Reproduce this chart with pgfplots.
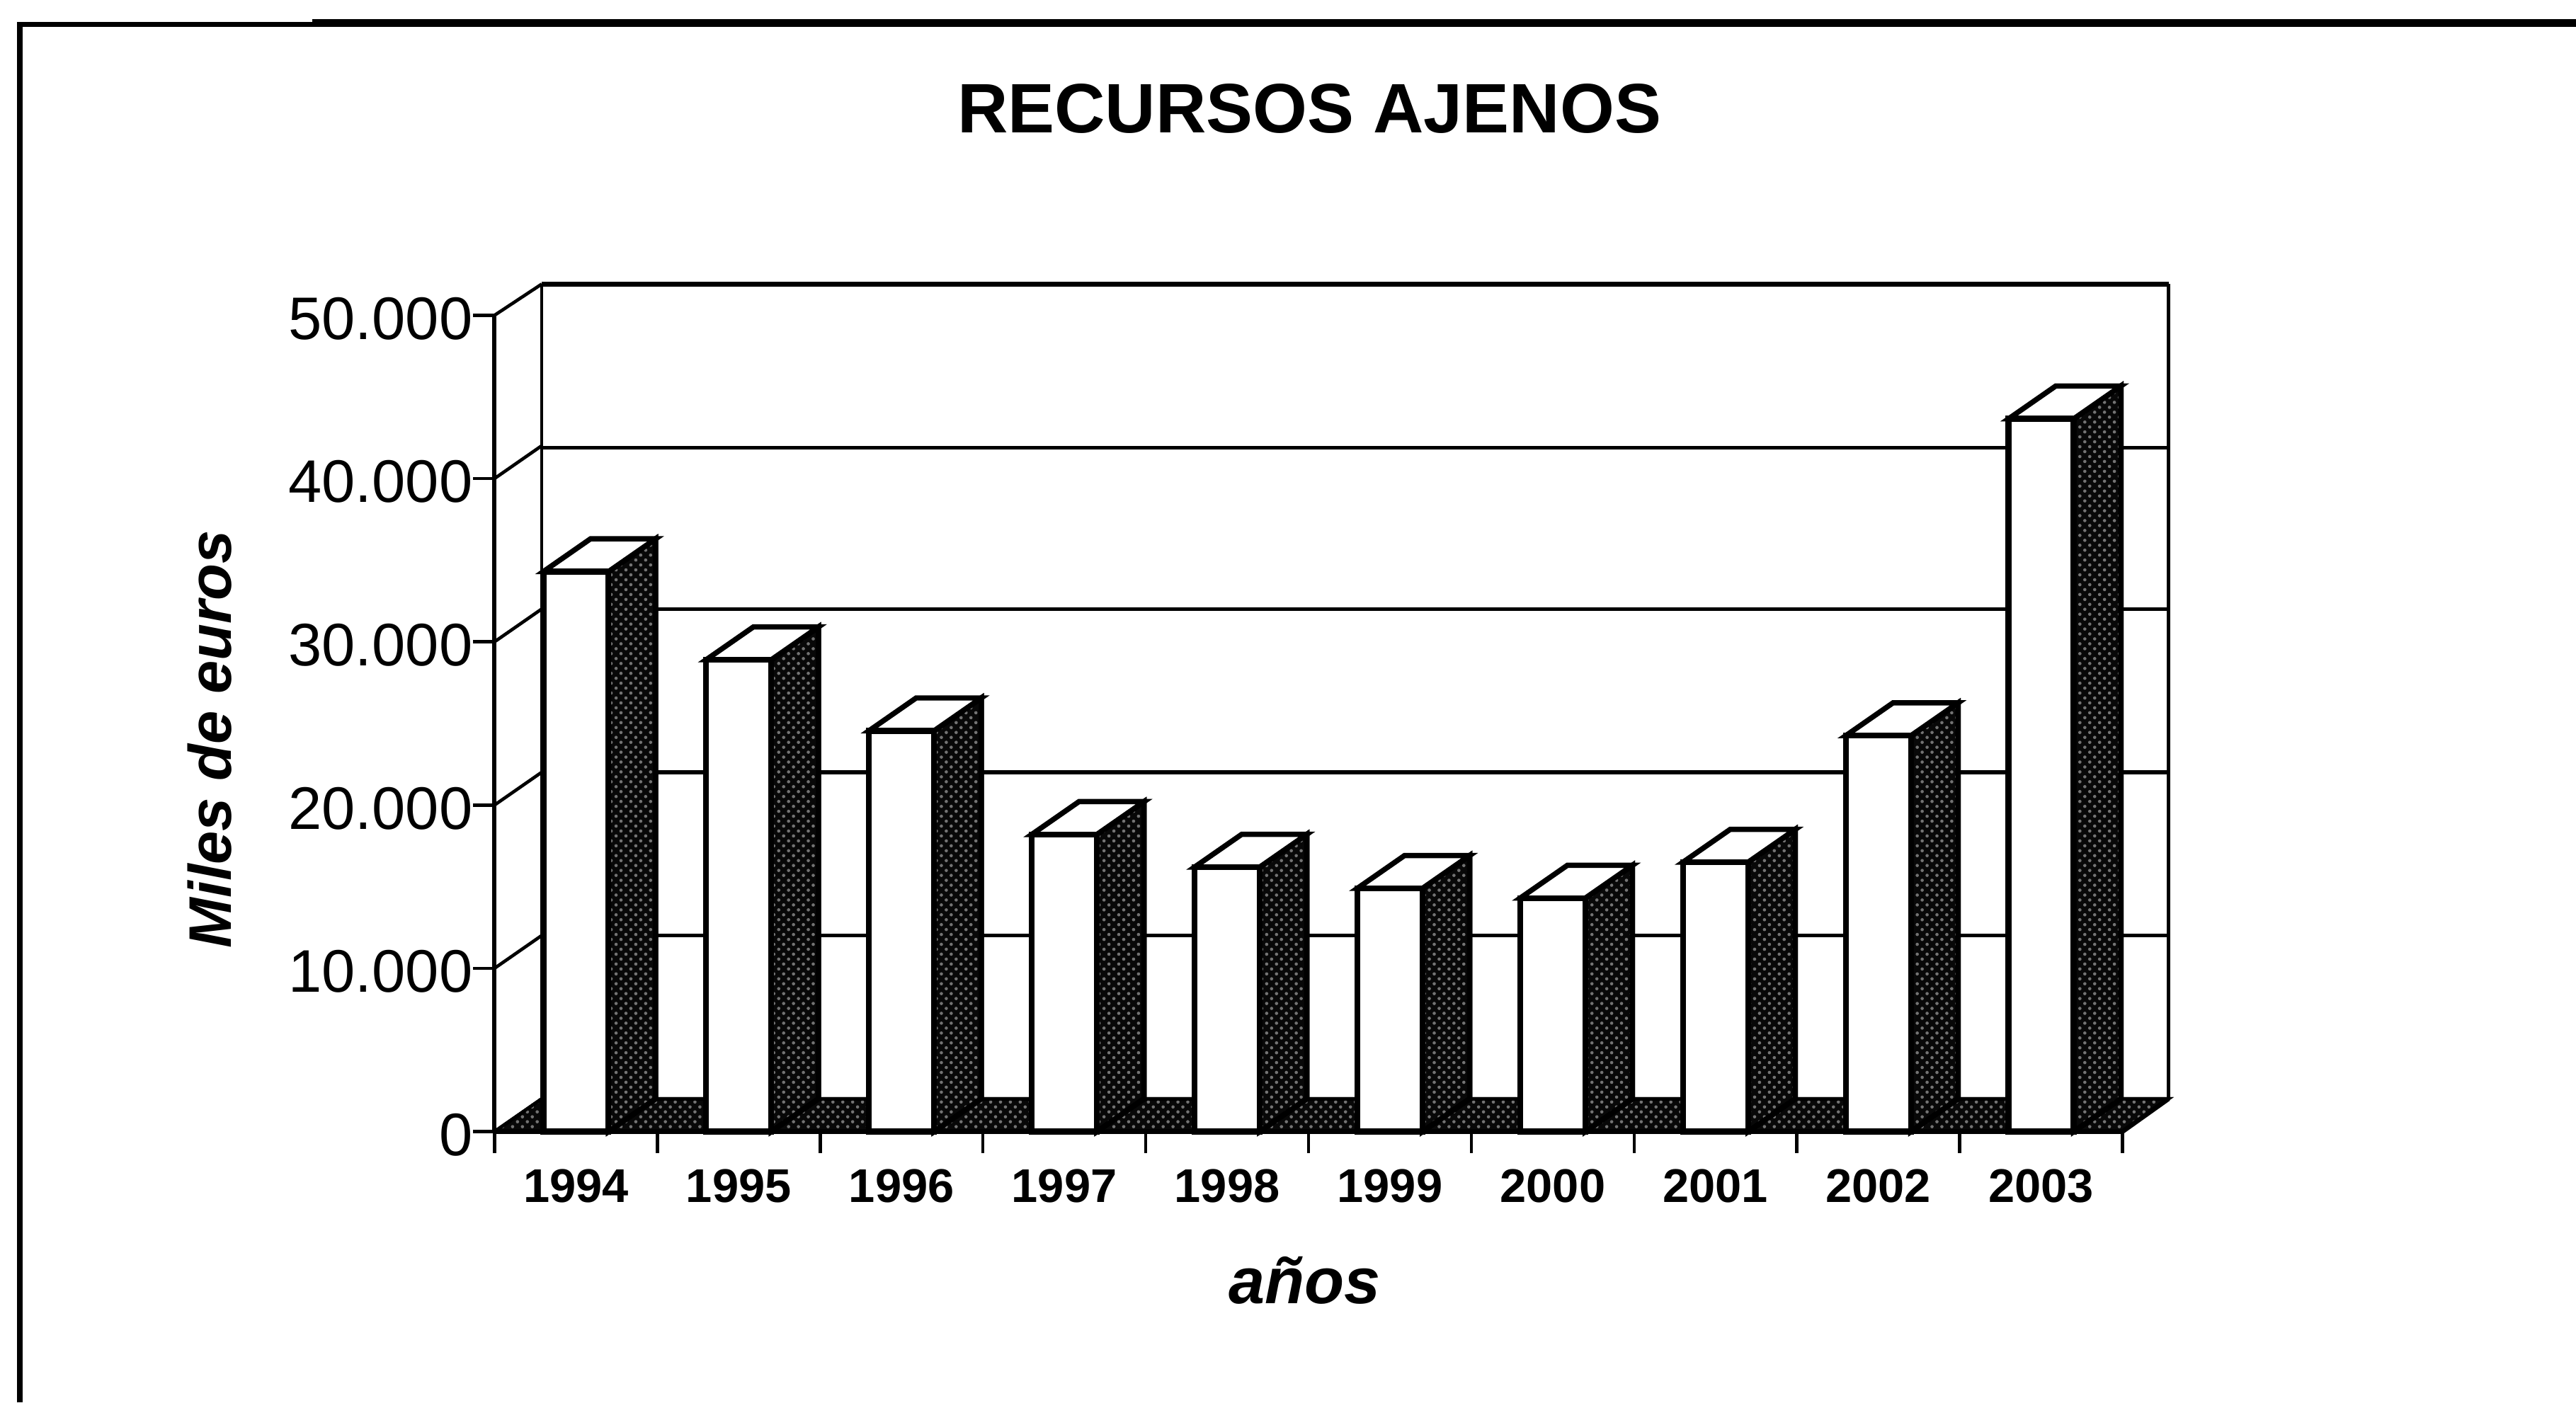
\documentclass[border=0pt]{standalone}
\usepackage{fontspec}
\setmainfont{Liberation Sans}
\usepackage{pgfplots}
\pgfplotsset{compat=1.18}
\usetikzlibrary{patterns}
\definecolor{sidegray}{gray}{0.03}
\definecolor{speck}{gray}{0.45}
\tikzset{sideface/.style={fill=sidegray,draw=black,line width=1.6pt,
           postaction={pattern=crosshatch dots,pattern color=speck}},
         topface/.style={fill=white,draw=black,line width=1.6pt,line join=miter},
         gridl/.style={black,line width=1pt}}
\begin{document}
\begin{tikzpicture}
\path[use as bounding box] (0,0) rectangle (784pt,427pt);
% scanned frame
\draw[line width=1.6pt] (6pt,0) -- (6pt,419.5pt) -- (95pt,419.5pt);
\draw[line width=2.2pt] (95pt,420pt) -- (784pt,420pt);
\begin{axis}[
  at={(150.5pt,82.5pt)}, anchor=south west, scale only axis,
  width=509.5pt, height=258pt,
  xmin=-0.5, xmax=9.783, ymin=0, ymax=51911,
  clip=false, axis line style={draw=none},
  xtick pos=bottom, ytick pos=left,
  ytick={0,10000,20000,30000,40000,50000},
  xtick={-0.5,0.5,1.5,2.5,3.5,4.5,5.5,6.5,7.5,8.5,9.5}, xticklabels={},
  extra x ticks={0,1,2,3,4,5,6,7,8,9},
  extra x tick labels={1994,1995,1996,1997,1998,1999,2000,2001,2002,2003},
  extra x tick style={major tick length=0pt,
    tick label style={font=\bfseries\fontsize{14.4}{16}\selectfont,yshift=-8pt}},
  major tick length=6.5pt, tick align=outside,
  tick style={black,line width=1pt},
  scaled y ticks=false,
  yticklabel style={font=\fontsize{18.3}{20}\selectfont,inner sep=0pt,xshift=0pt,yshift=-1pt},
  /pgf/number format/.cd, 1000 sep={.}, assume math mode=true,
  /pgfplots/.cd,
  title={RECURSOS AJENOS},
  title style={font=\bfseries\fontsize{21.3}{24}\selectfont,at={(rel axis cs:0.4867,1.184)},anchor=center},
  xlabel={años},
  xlabel style={font=\bfseries\itshape\fontsize{19.8}{22}\selectfont,at={(rel axis cs:0.484,-0.176)},anchor=center},
  ylabel={Miles de euros},
  ylabel style={font=\bfseries\itshape\fontsize{18.3}{20}\selectfont,at={(rel axis cs:-0.170,0.463)},anchor=center},
]
% back wall and side wall
\addplot[gridl,line width=1.5pt] coordinates {(-0.21,51911) (9.783,51911)};
\addplot[gridl] coordinates {(-0.21,2010) (-0.21,51911)};
\addplot[gridl,line width=1.2pt] coordinates {(9.783,2010) (9.783,51911)};
\addplot[gridl,line width=1.3pt] coordinates {(-0.5,0) (-0.5,50000)};
\addplot[gridl] coordinates {(-0.5,50000) (-0.21,51911)};
\addplot[gridl] coordinates {(-0.5,40000) (-0.21,42010)};
\addplot[gridl] coordinates {(-0.5,30000) (-0.21,32010)};
\addplot[gridl] coordinates {(-0.5,20000) (-0.21,22010)};
\addplot[gridl] coordinates {(-0.5,10000) (-0.21,12010)};
\addplot[gridl] coordinates {(-0.21,41900) (9.783,41900)};
\addplot[gridl] coordinates {(-0.21,32010) (9.783,32010)};
\addplot[gridl,line width=1.2pt] coordinates {(-0.21,22010) (9.783,22010)};
\addplot[gridl,line width=1.2pt] coordinates {(-0.21,12010) (9.783,12010)};
% floor
\addplot[fill=sidegray,draw=black,line width=1pt,postaction={pattern=crosshatch dots,pattern color=speck}] coordinates {(-0.5,0) (9.5,0) (9.783,2010) (-0.21,2010)} -- cycle;
% side faces
\addplot[sideface] coordinates {(0.2,0) (0.2,34300) (0.49,36310) (0.49,2010)} -- cycle;
\addplot[sideface] coordinates {(1.2,0) (1.2,28900) (1.49,30910) (1.49,2010)} -- cycle;
\addplot[sideface] coordinates {(2.2,0) (2.2,24550) (2.49,26560) (2.49,2010)} -- cycle;
\addplot[sideface] coordinates {(3.2,0) (3.2,18200) (3.49,20210) (3.49,2010)} -- cycle;
\addplot[sideface] coordinates {(4.2,0) (4.2,16200) (4.49,18210) (4.49,2010)} -- cycle;
\addplot[sideface] coordinates {(5.2,0) (5.2,14900) (5.49,16910) (5.49,2010)} -- cycle;
\addplot[sideface] coordinates {(6.2,0) (6.2,14300) (6.49,16310) (6.49,2010)} -- cycle;
\addplot[sideface] coordinates {(7.2,0) (7.2,16500) (7.49,18510) (7.49,2010)} -- cycle;
\addplot[sideface] coordinates {(8.2,0) (8.2,24250) (8.49,26260) (8.49,2010)} -- cycle;
\addplot[sideface] coordinates {(9.2,0) (9.2,43660) (9.49,45670) (9.49,2010)} -- cycle;
% top faces
\addplot[topface] coordinates {(-0.2,34300) (0.2,34300) (0.49,36310) (0.09,36310)} -- cycle;
\addplot[topface] coordinates {(0.8,28900) (1.2,28900) (1.49,30910) (1.09,30910)} -- cycle;
\addplot[topface] coordinates {(1.8,24550) (2.2,24550) (2.49,26560) (2.09,26560)} -- cycle;
\addplot[topface] coordinates {(2.8,18200) (3.2,18200) (3.49,20210) (3.09,20210)} -- cycle;
\addplot[topface] coordinates {(3.8,16200) (4.2,16200) (4.49,18210) (4.09,18210)} -- cycle;
\addplot[topface] coordinates {(4.8,14900) (5.2,14900) (5.49,16910) (5.09,16910)} -- cycle;
\addplot[topface] coordinates {(5.8,14300) (6.2,14300) (6.49,16310) (6.09,16310)} -- cycle;
\addplot[topface] coordinates {(6.8,16500) (7.2,16500) (7.49,18510) (7.09,18510)} -- cycle;
\addplot[topface] coordinates {(7.8,24250) (8.2,24250) (8.49,26260) (8.09,26260)} -- cycle;
\addplot[topface] coordinates {(8.8,43660) (9.2,43660) (9.49,45670) (9.09,45670)} -- cycle;
% front faces
\addplot[ybar,bar width=0.4,bar shift=0pt,fill=white,draw=black,line width=1.8pt] coordinates {
 (0,34300) (1,28900) (2,24550) (3,18200) (4,16200) (5,14900) (6,14300) (7,16500) (8,24250) (9,43660)};
% front floor edge
\addplot[gridl,line width=1.4pt] coordinates {(-0.5,0) (9.5,0) (9.783,2010)};
\end{axis}
\end{tikzpicture}
\end{document}
